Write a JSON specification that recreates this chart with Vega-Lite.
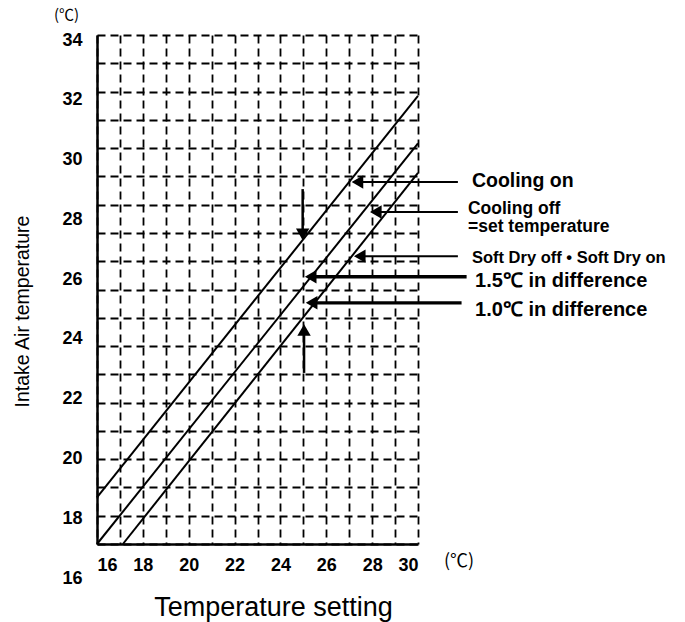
{
  "$schema": "https://vega.github.io/schema/vega-lite/v6.json",
  "width": 321,
  "height": 509,
  "autosize": {"type": "none"},
  "padding": {"left": 97, "top": 35, "right": 267, "bottom": 78},
  "background": "white",
  "config": {"view": {"stroke": null}, "font": "Liberation Sans"},
  "datasets": {
    "lines": [
      {"s": "upper", "x": 16, "y": 17.65},
      {"s": "upper", "x": 30, "y": 31.85},
      {"s": "mid", "x": 16, "y": 16},
      {"s": "mid", "x": 30, "y": 30.17},
      {"s": "lower", "x": 17.13, "y": 16},
      {"s": "lower", "x": 30, "y": 29.12}
    ],
    "arrows": [
      {"kind": "thin", "x": 27.3, "x2": 31.74, "y": 28.8, "y2": 28.8},
      {"kind": "thin", "x": 28.1, "x2": 31.74, "y": 27.74, "y2": 27.74},
      {"kind": "thin", "x": 27.4, "x2": 31.74, "y": 26.18, "y2": 26.18},
      {"kind": "thick", "x": 25.3, "x2": 32.12, "y": 25.45, "y2": 25.45},
      {"kind": "thick", "x": 25.3, "x2": 31.9, "y": 24.53, "y2": 24.53},
      {"kind": "vert", "x": 24.97, "x2": 24.97, "y": 28.55, "y2": 26.9},
      {"kind": "vert", "x": 25.03, "x2": 25.03, "y": 22.05, "y2": 23.6}
    ],
    "heads": [
      {"x": 27.36, "y": 28.8, "dir": "left"},
      {"x": 28.16, "y": 27.74, "dir": "left"},
      {"x": 27.46, "y": 26.18, "dir": "left"},
      {"x": 25.32, "y": 25.45, "dir": "left"},
      {"x": 25.36, "y": 24.53, "dir": "left"},
      {"x": 24.97, "y": 26.95, "dir": "down"},
      {"x": 25.03, "y": 23.57, "dir": "up"}
    ],
    "notes": [
      {"grp": "a", "x": 32.35, "y": 28.62, "label": "Cooling on"},
      {"grp": "b", "x": 32.18, "y": 27.67, "label": "Cooling off"},
      {"grp": "b", "x": 32.18, "y": 27.03, "label": "=set temperature"},
      {"grp": "c", "x": 32.35, "y": 25.94, "label": "Soft Dry off • Soft Dry on"},
      {"grp": "d", "x": 32.49, "y": 25.09, "label": "1.5℃ in difference"},
      {"grp": "d", "x": 32.49, "y": 24.06, "label": "1.0℃ in difference"},
      {"grp": "e", "x": 31.79, "y": 15.36, "label": "(℃)"},
      {"grp": "f", "x": 14.67, "y": 34.71, "label": "(℃)"}
    ]
  },
  "layer": [
    {
      "encoding": {
        "x": {
          "field": "x", "type": "quantitative",
          "scale": {"domain": [16, 30], "nice": false, "zero": false},
          "axis": {
            "values": [16,17,18,19,20,21,22,23,24,25,26,27,28,29,30],
            "labelExpr": "datum.value % 2 == 0 ? datum.label : ''",
            "labelOverlap": false,
            "labelFont": "Liberation Sans", "labelFontSize": 18, "labelFontWeight": "bold", "labelColor": "black",
            "labelBaseline": "middle", "labelPadding": 21,
            "ticks": false,
            "domainColor": "black", "domainWidth": 2.5,
            "grid": true, "gridColor": "black", "gridDash": [8, 5], "gridWidth": 1.8, "gridOpacity": 1,
            "title": "Temperature setting",
            "titleFont": "Liberation Sans", "titleFontSize": 27, "titleFontWeight": "normal", "titleColor": "black",
            "titleX": 176, "titleY": 71, "titleBaseline": "alphabetic", "titleAlign": "center"
          }
        },
        "y": {
          "field": "y", "type": "quantitative",
          "scale": {"domain": [16, 34], "nice": false, "zero": false},
          "axis": {
            "values": [16,17,18,19,20,21,22,23,24,25,26,27,28,29,30,31,32,33,34],
            "labels": false, "ticks": false,
            "domainColor": "black", "domainWidth": 2.5,
            "grid": true, "gridColor": "black", "gridDash": [8, 5], "gridWidth": 1.8, "gridOpacity": 1,
            "title": "Intake Air temperature",
            "titleFont": "Liberation Sans", "titleFontSize": 19.5, "titleFontWeight": "normal", "titleColor": "black",
            "titleAngle": -90, "titleX": -75, "titleY": 276, "titleAlign": "center", "titleBaseline": "middle"
          }
        }
      },
      "layer": [
        {
          "data": {"name": "lines"},
          "mark": {"type": "line", "color": "black", "strokeWidth": 2, "clip": false},
          "encoding": {"detail": {"field": "s"}}
        },
        {
          "data": {"name": "arrows"},
          "transform": [{"filter": "datum.kind == 'thin'"}],
          "mark": {"type": "rule", "color": "black", "strokeWidth": 2, "clip": false},
          "encoding": {"x2": {"field": "x2"}, "y2": {"field": "y2"}}
        },
        {
          "data": {"name": "arrows"},
          "transform": [{"filter": "datum.kind == 'thick'"}],
          "mark": {"type": "rule", "color": "black", "strokeWidth": 3.3, "clip": false},
          "encoding": {"x2": {"field": "x2"}, "y2": {"field": "y2"}}
        },
        {
          "data": {"name": "arrows"},
          "transform": [{"filter": "datum.kind == 'vert'"}],
          "mark": {"type": "rule", "color": "black", "strokeWidth": 2.5, "clip": false},
          "encoding": {"x2": {"field": "x2"}, "y2": {"field": "y2"}}
        },
        {
          "data": {"name": "heads"},
          "mark": {"type": "point", "filled": true, "color": "black", "opacity": 1, "size": 180, "clip": false},
          "encoding": {
            "shape": {
              "field": "dir", "type": "nominal",
              "scale": {"domain": ["left", "down", "up"], "range": ["triangle-left", "triangle-down", "triangle-up"]},
              "legend": null
            }
          }
        },
        {
          "data": {"name": "notes"},
          "transform": [{"filter": "datum.grp == 'a'"}],
          "mark": {"type": "text", "align": "left", "baseline": "alphabetic", "font": "Liberation Sans", "fontSize": 19.5, "fontWeight": "bold", "color": "black", "clip": false},
          "encoding": {"text": {"field": "label"}}
        },
        {
          "data": {"name": "notes"},
          "transform": [{"filter": "datum.grp == 'b'"}],
          "mark": {"type": "text", "align": "left", "baseline": "alphabetic", "font": "Liberation Sans", "fontSize": 17.5, "fontWeight": "bold", "color": "black", "clip": false},
          "encoding": {"text": {"field": "label"}}
        },
        {
          "data": {"name": "notes"},
          "transform": [{"filter": "datum.grp == 'c'"}],
          "mark": {"type": "text", "align": "left", "baseline": "alphabetic", "font": "Liberation Sans", "fontSize": 16.5, "fontWeight": "bold", "color": "black", "clip": false},
          "encoding": {"text": {"field": "label"}}
        },
        {
          "data": {"name": "notes"},
          "transform": [{"filter": "datum.grp == 'd'"}],
          "mark": {"type": "text", "align": "left", "baseline": "alphabetic", "font": "Liberation Sans", "fontSize": 20, "fontWeight": "bold", "color": "black", "clip": false},
          "encoding": {"text": {"field": "label"}}
        },
        {
          "data": {"name": "notes"},
          "transform": [{"filter": "datum.grp == 'e'"}],
          "mark": {"type": "text", "align": "center", "baseline": "middle", "font": "Noto Sans CJK JP", "fontSize": 18, "fontWeight": "normal", "color": "black", "clip": false},
          "encoding": {"text": {"field": "label"}}
        },
        {
          "data": {"name": "notes"},
          "transform": [{"filter": "datum.grp == 'f'"}],
          "mark": {"type": "text", "align": "center", "baseline": "middle", "font": "Noto Sans CJK JP", "fontSize": 15, "fontWeight": "normal", "color": "black", "clip": false},
          "encoding": {"text": {"field": "label"}}
        }
      ]
    },
    {
      "data": {"values": [{"t": 16}, {"t": 34}]},
      "mark": {"type": "point", "opacity": 0},
      "encoding": {
        "y": {
          "field": "t", "type": "quantitative",
          "scale": {"domain": [16, 34], "range": [543, 5], "nice": false, "zero": false},
          "axis": {
            "orient": "left",
            "values": [16, 18, 20, 22, 24, 26, 28, 30, 32, 34],
            "labelOverlap": false,
            "domain": false, "ticks": false, "grid": false, "title": null,
            "labelFont": "Liberation Sans", "labelFontSize": 18, "labelFontWeight": "bold", "labelColor": "black",
            "labelPadding": 15, "labelBaseline": "middle"
          }
        }
      }
    }
  ],
  "resolve": {"scale": {"y": "independent"}, "axis": {"y": "independent"}}
}
